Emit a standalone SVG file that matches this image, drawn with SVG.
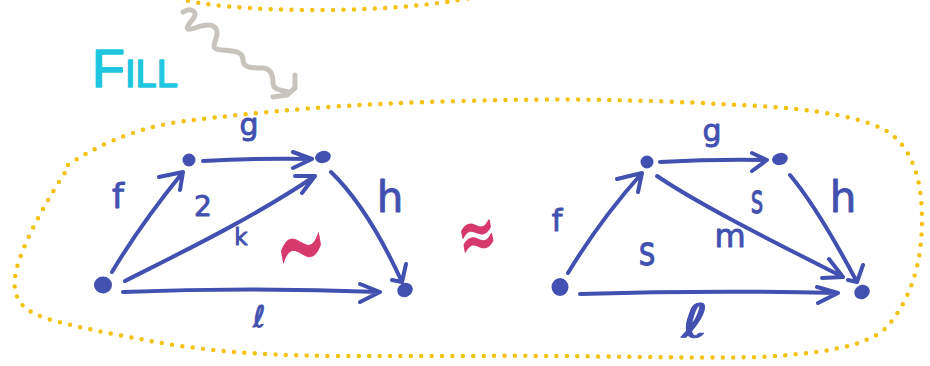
<svg xmlns="http://www.w3.org/2000/svg" width="930" height="366" viewBox="0 0 930 366">
<style>
.dot{fill:none;stroke:#f2c20f;stroke-width:4.5;stroke-linecap:round;stroke-dasharray:0 10.4}
.edge{fill:none;stroke:#4250b0;stroke-width:4;stroke-linecap:round;stroke-linejoin:round}
.node{fill:#4250b0}
.lbl{fill:#4250b0;stroke:#4250b0;stroke-width:0.9;stroke-linejoin:round;font-family:"DejaVu Sans","Liberation Sans",sans-serif;text-anchor:middle}
.red{fill:#d63a6c;stroke:#d63a6c;stroke-linejoin:round;font-family:"DejaVu Sans",sans-serif;text-anchor:middle}
</style>
<rect width="930" height="366" fill="#ffffff"/>
<g id="boundaries">
<path class="dot" d="M178,-2 C220,12 380,16 470,-2"/>
<path class="dot" d="M68,165 C90,150 130,128 185,121 C260,112 350,103 467,101 C560,98 650,100 720,104 C790,107 850,112 885,130 C915,148 922,185 922,220 C922,265 910,300 887,327 C865,348 820,353 760,357 C680,359 600,355 470,356 L333,356 C250,355 200,350 150,341 C110,333 60,325 35,314 C10,302 12,280 20,258 C30,230 50,195 68,168"/>
</g>
<g id="fill-label">
<text x="92" y="87" font-family="'Liberation Sans',sans-serif" font-size="54" font-variant="small-caps" fill="#1ec6e0" stroke="#1ec6e0" stroke-width="1.5" stroke-linejoin="round">Fill</text>
<path d="M183,12 C191,7 199,12 193,19 C187,26 183,32 195,28 C206,24 216,23 217,32 C218,41 207,49 222,50 C236,51 243,52 243,60 C243,68 252,68 262,68 C271,68 273,76 273,83 C273,90 281,90 288,92" fill="none" stroke="#c8c4bd" stroke-width="5" stroke-linecap="round" stroke-linejoin="round"/>
<path d="M273,97 L287,95 L295,88 L295,75" fill="none" stroke="#c8c4bd" stroke-width="5" stroke-linecap="round" stroke-linejoin="round"/>
</g>
<g id="connectors">
<path class="edge" d="M112,272 Q140,225 183,172 M159,177 L183,172 L180,190"/>
<path class="edge" d="M203,161 Q260,158 312,159 M293,152 L312,159 L293,168"/>
<path class="edge" d="M125,281 C170,258 250,220 315,176 M295,176 L315,176 L302,193"/>
<path class="edge" d="M331,172 C360,200 385,245 402,282 M392,280 L402,282 L406,264"/>
<path class="edge" d="M123,292 Q250,287 380,292 M360,284 L380,292 L360,302"/>
<path class="edge" d="M568,273 Q600,220 642,173 M617,179 L642,173 L638,192"/>
<path class="edge" d="M660,162 Q715,159 767,160 M752,153 L767,160 L752,171"/>
<path class="edge" d="M657,176 C700,205 770,240 843,277 M822,278 L843,277 L829,259"/>
<path class="edge" d="M790,175 C815,205 840,250 857,282 M848,280 L857,282 L863,265"/>
<path class="edge" d="M580,294 Q710,290 838,293 M817,287 L838,293 L818,303"/>
</g>
<g id="left-a"><ellipse class="node" cx="103" cy="285" rx="9" ry="8.5"/></g>
<g id="left-b"><circle class="node" cx="189" cy="160" r="6.5"/></g>
<g id="left-c"><ellipse class="node" cx="323" cy="157" rx="8" ry="6" transform="rotate(-15 323 157)"/></g>
<g id="left-d"><ellipse class="node" cx="405" cy="290" rx="8" ry="7" transform="rotate(-30 405 290)"/></g>
<g id="right-a"><ellipse class="node" cx="560" cy="287" rx="8.5" ry="9"/></g>
<g id="right-b"><circle class="node" cx="647" cy="162" r="6.5"/></g>
<g id="right-c"><ellipse class="node" cx="780" cy="159" rx="8" ry="6" transform="rotate(-15 780 159)"/></g>
<g id="right-d"><ellipse class="node" cx="862" cy="292" rx="8" ry="7" transform="rotate(-30 862 292)"/></g>
<g id="labels">
<text class="lbl" x="118" y="208" font-size="34">f</text>
<text class="lbl" x="249" y="135" font-size="30">g</text>
<text class="lbl" x="203" y="216" font-size="28">2</text>
<text class="lbl" x="241" y="245" font-size="23">k</text>
<text class="lbl" x="390" y="212" font-size="42">h</text>
<text class="lbl" x="259" y="327" font-size="30">ℓ</text>
<text class="lbl" x="712" y="141" font-size="30">g</text>
<text class="lbl" x="557" y="231" font-size="30">f</text>
<text class="lbl" font-size="40" transform="translate(757,213) scale(0.6,1)">s</text>
<text class="lbl" x="843" y="212" font-size="42">h</text>
<text class="lbl" x="730" y="247" font-size="32">m</text>
<text class="lbl" font-size="40" transform="translate(647,265) scale(0.8,1)">s</text>
<text class="lbl" font-size="46" transform="translate(695,337) scale(1.4,1)">ℓ</text>
<text class="red" x="0" y="20" font-size="64" stroke-width="0.4" transform="translate(301,248) rotate(-10) scale(1,2.2)">∼</text>
<text class="red" x="0" y="15" font-size="46" stroke-width="1.4" transform="translate(477,235) rotate(-10) scale(1,1.6)">≈</text>
</g>
</svg>
